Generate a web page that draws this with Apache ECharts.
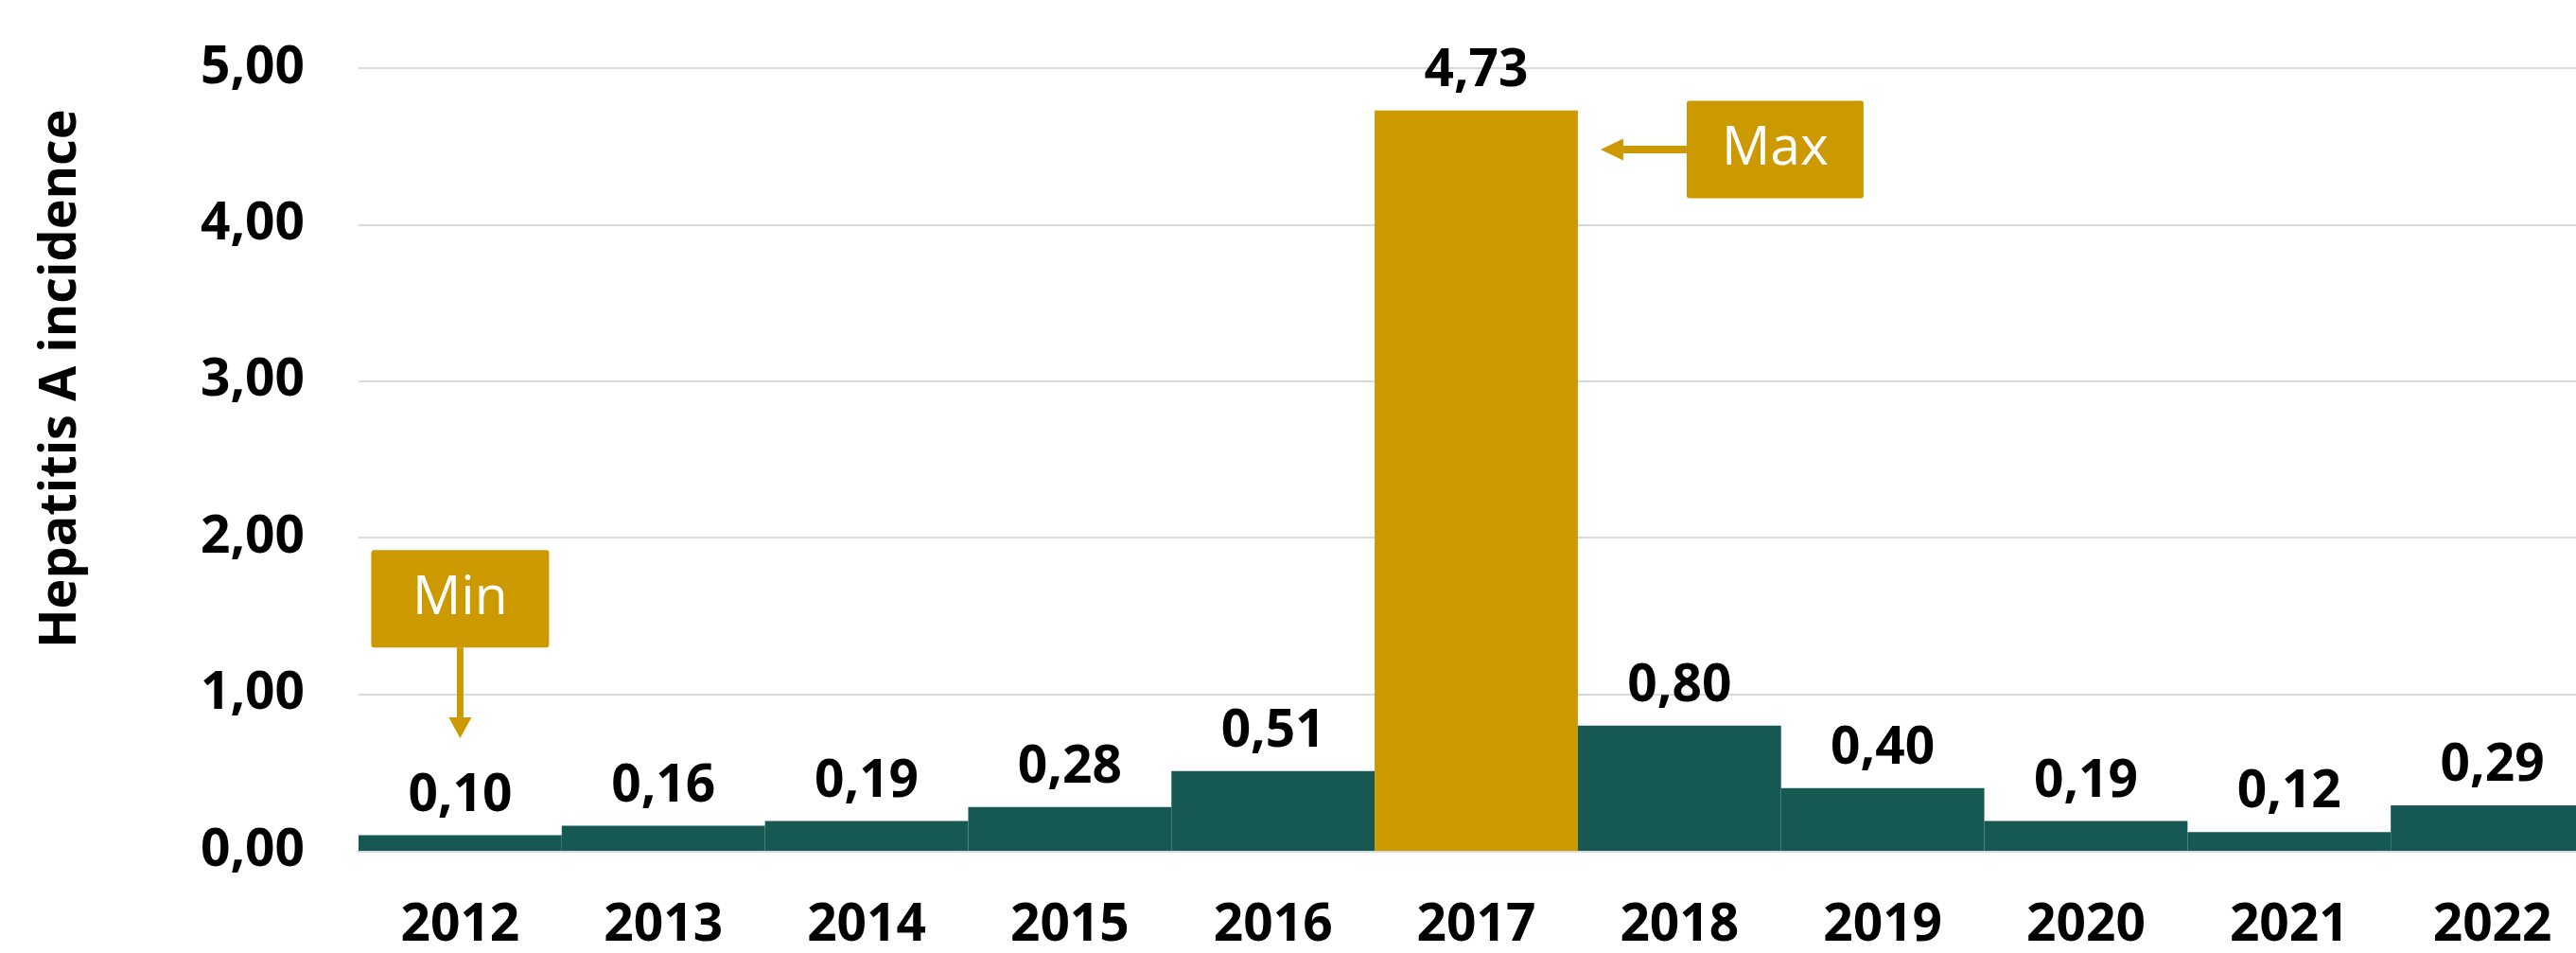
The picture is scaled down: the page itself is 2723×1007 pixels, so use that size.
<!DOCTYPE html>
<html>
<head>
<meta charset="utf-8">
<script src="https://cdn.jsdelivr.net/npm/echarts@6/dist/echarts.min.js"></script>
<style>
html,body{margin:0;padding:0;background:#fff;overflow:hidden;}
#chart{width:2742px;height:1007px;}
</style>
</head>
<body>
<div id="chart"></div>
<script>
// ---- data ----
const years = ['2012','2013','2014','2015','2016','2017','2018','2019','2020','2021','2022'];
const incidence = [0.10, 0.16, 0.19, 0.28, 0.51, 4.73, 0.80, 0.40, 0.19, 0.12, 0.29];
const yTicks = [0, 1, 2, 3, 4, 5];
const yTitle = 'Hepatitis A incidence';
const minLabel = 'Min';
const maxLabel = 'Max';

// ---- styles ----
const GREEN = '#165852';
const GOLD = '#CC9900';
const FONT = 'Open Sans';
const fmt = v => Number(v).toFixed(2).replace('.', ',');

const maxIdx = incidence.indexOf(Math.max(...incidence));
const minIdx = incidence.indexOf(Math.min(...incidence));

const chart = echarts.init(document.getElementById('chart'), null, {renderer: 'canvas'});

const option = {
  backgroundColor: '#ffffff',
  animation: false,
  grid: {left: 379, top: 72, right: 0, height: 827, containLabel: false},
  xAxis: {
    type: 'category',
    data: years,
    axisLine: {show: true, lineStyle: {color: '#d9d9d9', width: 3}},
    axisTick: {show: false},
    axisLabel: {
      color: '#000', fontFamily: FONT, fontWeight: 'bold', fontSize: 55, margin: 52
    }
  },
  yAxis: {
    type: 'value',
    min: yTicks[0],
    max: yTicks[yTicks.length - 1],
    interval: 1,
    axisLine: {show: false},
    axisTick: {show: false},
    splitLine: {lineStyle: {color: '#d9d9d9', width: 2}},
    axisLabel: {
      color: '#000', fontFamily: FONT, fontWeight: 'bold', fontSize: 55, margin: 57,
      formatter: fmt
    }
  },
  series: [{
    type: 'bar',
    data: incidence.map((v, i) => ({
      value: v,
      itemStyle: {color: i === maxIdx ? GOLD : GREEN}
    })),
    barCategoryGap: '0%',
    label: {
      show: true,
      position: 'top',
      distance: 14,
      color: '#000',
      fontFamily: FONT,
      fontWeight: 'bold',
      fontSize: 55,
      formatter: p => fmt(p.value)
    }
  }]
};
chart.setOption(option);

// ---- annotations (positions derived from the chart's own scales) ----
function px(cat, val) { return chart.convertToPixel({gridIndex: 0}, [cat, val]); }
const bandW = px(years[1], 0)[0] - px(years[0], 0)[0];

// Min callout above the minimum bar
const minC = px(years[minIdx], 1.61);
const minTip = px(years[minIdx], 0.72);
const minW = 188, minH = 103;
const minBoxBottom = minC[1] + minH / 2;

// Max callout to the right of the maximum bar
const maxMid = px(years[maxIdx], 4.48);
const barRight = maxMid[0] + bandW / 2;
const maxTipX = barRight + 24;
const maxBoxLeft = barRight + 115;
const maxW = 187, maxH = 103;

chart.setOption({
  graphic: [
    {
      type: 'text', x: 65, y: 400, rotation: Math.PI / 2,
      style: {text: yTitle, fill: '#000', font: 'bold 54px "' + FONT + '"', align: 'center', verticalAlign: 'middle'}
    },
    // Min box
    {type: 'rect', shape: {x: minC[0] - minW / 2, y: minC[1] - minH / 2, width: minW, height: minH, r: 3}, style: {fill: GOLD}},
    {type: 'text', x: minC[0], y: minC[1], style: {text: minLabel, fill: '#fff', font: '57px "' + FONT + '"', align: 'center', verticalAlign: 'middle'}},
    {type: 'rect', shape: {x: minC[0] - 3.5, y: minBoxBottom, width: 7, height: minTip[1] - 22 - minBoxBottom}, style: {fill: GOLD}},
    {type: 'polygon', shape: {points: [[minC[0] - 12, minTip[1] - 22], [minC[0] + 12, minTip[1] - 22], [minC[0], minTip[1]]]}, style: {fill: GOLD}},
    // Max box
    {type: 'rect', shape: {x: maxBoxLeft, y: maxMid[1] - maxH / 2, width: maxW, height: maxH, r: 3}, style: {fill: GOLD}},
    {type: 'text', x: maxBoxLeft + maxW / 2, y: maxMid[1], style: {text: maxLabel, fill: '#fff', font: '57px "' + FONT + '"', align: 'center', verticalAlign: 'middle'}},
    {type: 'rect', shape: {x: maxTipX + 24, y: maxMid[1] - 4, width: maxBoxLeft - maxTipX - 24, height: 8}, style: {fill: GOLD}},
    {type: 'polygon', shape: {points: [[maxTipX, maxMid[1]], [maxTipX + 24, maxMid[1] - 11.5], [maxTipX + 24, maxMid[1] + 11.5]]}, style: {fill: GOLD}}
  ]
});
</script>
</body>
</html>
